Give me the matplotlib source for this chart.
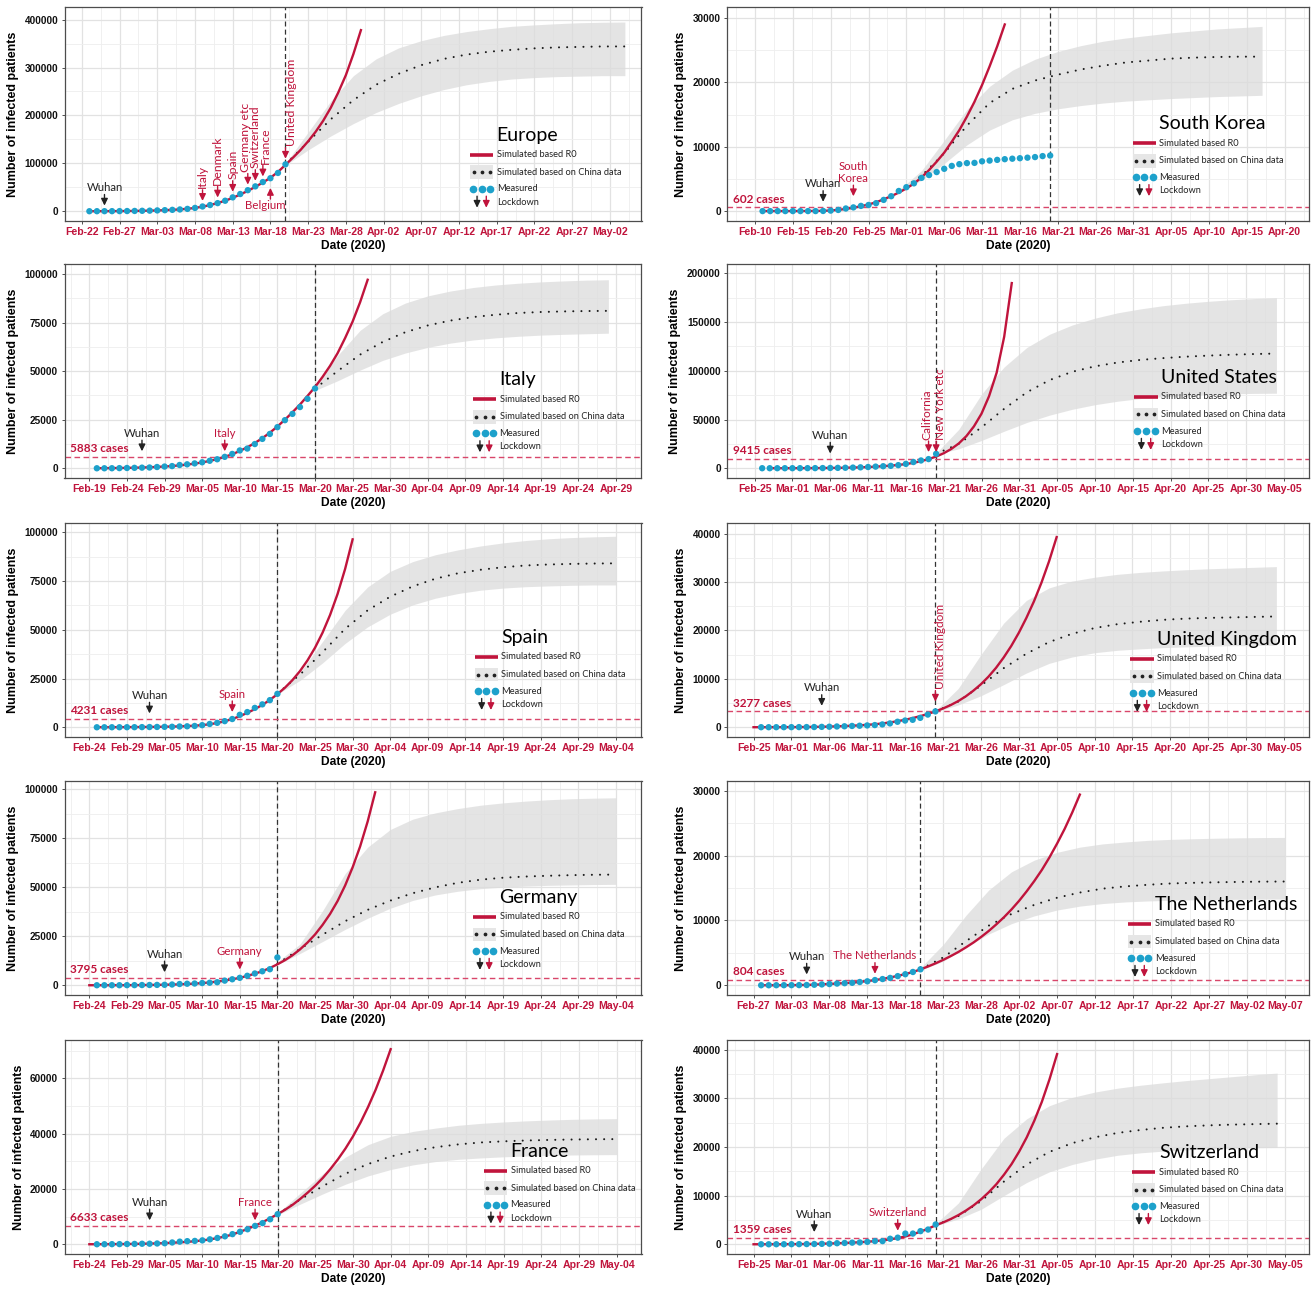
import numpy as np
import pandas as pd
import matplotlib
matplotlib.use('Agg')
import matplotlib.pyplot as plt
import matplotlib.dates as mdates
import matplotlib.transforms as mtransforms
from matplotlib.patches import Rectangle

plt.rcParams['font.family'] = ['Liberation Sans', 'DejaVu Sans']
SOFT = ['Lato', 'DejaVu Sans']

RED = '#C0143C'
BLUE = '#1DA1CB'
HLINE = '#D9466A'

# ---------------- data ----------------
# measured: daily values from *_start
# r0: daily values from *_r0_start
# china / low / high: every 3 days from *_china_start
CHINA_STEP = 3

europe_start = '2020-02-23'
europe_measured = [100, 150, 200, 250, 350, 500, 700, 1000, 1300, 1800, 2300, 3000, 3800, 5000,
                   7000, 10000, 13000, 17000, 22000, 29000, 36000, 44000, 52000, 61000, 69000,
                   80000, 98000]
europe_r0_start = '2020-02-23'
europe_r0 = [100, 150, 200, 270, 350, 500, 700, 950, 1300, 1750, 2300, 3000, 3900, 5200, 7000,
             9600, 13000, 17200, 22000, 28000, 35000, 42500, 51000, 60000, 70000, 82000, 97000,
             112000, 128000, 146000, 166000, 189000, 216000, 248000, 284000, 328000, 378000]
europe_china_start = '2020-03-20'
europe_china = [98000, 145000, 192000, 232000, 264000, 287000, 305000, 318000, 327000, 333000,
                337000, 340000, 342000, 343000, 344000, 344000]
europe_high = [100000, 165000, 230000, 283000, 318000, 341000, 356000, 367000, 375000, 381000,
               386000, 389000, 391500, 393500, 394500, 395000]
europe_low = [96000, 128000, 157000, 183000, 206000, 225000, 241000, 254000, 264000, 271000,
              276000, 279000, 281000, 282000, 283000, 283000]
europe_lock = '2020-03-20'
europe_cases = None
# (label, date, style, x shift pt, extra lift pt)
europe_marks = [('Wuhan', '2020-02-25', 'wuhan', 0, 0), ('Italy', '2020-03-09', 'rot', 0, 0),
                ('Denmark', '2020-03-11', 'rot', 0, 0), ('Spain', '2020-03-13', 'rot', 0, 0),
                ('Germany etc', '2020-03-15', 'rot', -1.5, 0),
                ('Switzerland', '2020-03-16', 'rot', 0, 0),
                ('France', '2020-03-17', 'rot', 1.5, 0), ('Belgium', '2020-03-18', 'below', -4, 3),
                ('United Kingdom', '2020-03-20', 'rot', 4, 0)]

sk_start = '2020-02-11'
sk_measured = [28, 28, 28, 28, 28, 29, 30, 31, 51, 104, 204, 433, 602, 833, 977, 1261, 1766, 2337,
               3150, 3736, 4335, 5186, 5621, 6088, 6593, 7041, 7314, 7478, 7513, 7755, 7869, 7979,
               8086, 8162, 8236, 8320, 8413, 8565, 8652]
sk_r0_start = '2020-02-11'
sk_r0 = [28, 28, 28, 29, 30, 32, 40, 50, 70, 120, 220, 360, 550, 780, 1050, 1400, 1850, 2350,
         2900, 3550, 4300, 5250, 6400, 7700, 9100, 10800, 12600, 14700, 17000, 19600, 22500,
         25600, 29000]
sk_china_start = '2020-02-29'
sk_china = [3150, 5500, 9000, 13300, 16800, 19000, 20300, 21200, 22000, 22600, 23100, 23400,
            23700, 23850, 23950, 24000, 24000]
sk_high = [3300, 6300, 11000, 15800, 19400, 21900, 23600, 24800, 25700, 26400, 26900, 27300,
           27700, 28000, 28300, 28500, 28700]
sk_low = [3000, 4800, 7400, 10300, 12600, 14200, 15200, 15900, 16400, 16800, 17100, 17300, 17500,
          17650, 17800, 17900, 18000]
sk_lock = '2020-03-20'
sk_cases = 602
sk_marks = [('Wuhan', '2020-02-19', 'wuhan', 0, 0), ('South\nKorea', '2020-02-23', 'up', 0, 4)]

italy_start = '2020-02-20'
italy_measured = [3, 3, 20, 79, 150, 229, 322, 400, 650, 888, 1128, 1694, 2036, 2502, 3089, 3858,
                  4636, 5883, 7375, 9172, 10149, 12462, 15113, 17660, 21157, 24747, 27980, 31506,
                  35713, 41035]
italy_r0_start = '2020-02-20'
italy_r0 = [30, 50, 80, 130, 200, 280, 380, 520, 700, 900, 1150, 1500, 1900, 2400, 3000, 3800,
            4700, 5900, 7200, 8900, 10800, 13000, 15500, 18300, 21500, 25000, 28800, 32800,
            37200, 41800, 47000, 52700, 59200, 67000, 75500, 85500, 97000]
italy_china_start = '2020-03-20'
italy_china = [41000, 50000, 58500, 65000, 70000, 73500, 76000, 77800, 79000, 79900, 80400, 80700,
               80900, 81000]
italy_high = [42000, 58000, 71000, 79500, 85000, 88700, 91200, 93000, 94300, 95200, 95900, 96400,
              96800, 97000]
italy_low = [40000, 45000, 50500, 55500, 59300, 62200, 64400, 66000, 67100, 67900, 68500, 68900,
             69200, 69500]
italy_lock = '2020-03-20'
italy_cases = 5883
italy_marks = [('Wuhan', '2020-02-26', 'wuhan', 0, 0), ('Italy', '2020-03-08', 'up', 0, 0)]

us_start = '2020-02-26'
us_measured = [60, 60, 65, 70, 80, 100, 125, 160, 220, 320, 420, 540, 700, 960, 1300, 1700, 2100,
               2500, 3200, 4500, 6400, 8000, 9415, 14800]
us_r0_start = '2020-02-27'
us_r0 = [60, 65, 70, 80, 100, 125, 160, 220, 300, 400, 540, 720, 950, 1250, 1650, 2150, 2700,
         3400, 4300, 5600, 7300, 9400, 12000, 15400, 19800, 25500, 33000, 43000, 56000, 74000,
         98000, 135000, 190000]
us_china_start = '2020-03-20'
us_china = [14800, 25000, 42000, 61000, 78000, 90500, 99000, 104600, 108500, 111200, 113000,
            114500, 115600, 116500, 117200, 117700]
us_high = [15500, 40000, 76000, 104000, 124000, 137500, 147000, 154000, 159500, 163500, 166800,
           169300, 171300, 172900, 174100, 175000]
us_low = [14200, 20000, 28500, 38000, 47000, 54500, 60500, 65200, 68800, 71500, 73400, 74800,
          75800, 76400, 76800, 77000]
us_lock = '2020-03-20'
us_cases = 9415
us_marks = [('Wuhan', '2020-03-06', 'wuhan', 0, 0), ('California', '2020-03-19', 'rot', -1.5, 1),
            ('New York etc', '2020-03-20', 'rot', 3.5, 1)]

spain_start = '2020-02-25'
spain_measured = [2, 6, 12, 23, 32, 45, 84, 120, 165, 222, 259, 400, 500, 673, 1073, 1695, 2277,
                  3146, 4231, 6391, 7798, 9942, 11748, 13910, 17147]
spain_r0_start = '2020-02-25'
spain_r0 = [20, 30, 40, 55, 70, 95, 120, 160, 200, 260, 340, 450, 600, 820, 1100, 1550, 2200,
            3100, 4200, 5700, 7400, 9300, 11500, 14000, 17000, 20300, 24200, 28800, 34300,
            40800, 48500, 57600, 68400, 81200, 96400]
spain_china_start = '2020-03-20'
spain_china = [17300, 27000, 38500, 50500, 60000, 67000, 72300, 76200, 79000, 80800, 82100, 83000,
               83500, 83800, 84000, 84100]
spain_high = [17500, 28000, 44000, 60000, 72000, 80000, 85000, 88500, 91000, 93000, 94600, 95800,
              96700, 97300, 97700, 98000]
spain_low = [17000, 24000, 33000, 43000, 51500, 58000, 62800, 66200, 68600, 70300, 71400, 72100,
             72500, 72800, 73000, 73000]
spain_lock = '2020-03-20'
spain_cases = 4231
spain_marks = [('Wuhan', '2020-03-03', 'wuhan', 0, 0), ('Spain', '2020-03-14', 'up', 0, 1)]

uk_start = '2020-02-26'
uk_measured = [13, 13, 15, 20, 23, 36, 40, 51, 85, 115, 163, 206, 273, 321, 382, 456, 590, 798,
               1140, 1391, 1543, 1950, 2626, 3277]
uk_r0_start = '2020-02-25'
uk_r0 = [13, 14, 15, 18, 22, 28, 38, 50, 70, 100, 140, 190, 250, 320, 400, 500, 620, 790, 1000,
         1250, 1550, 1900, 2300, 2750, 3277, 3880, 4580, 5400, 6380, 7550, 8880, 10450, 12280,
         14400, 16780, 19500, 22580, 26000, 29900, 34300, 39300]
uk_china_start = '2020-03-20'
uk_china = [3277, 5300, 8600, 12200, 15200, 17600, 19300, 20500, 21300, 21800, 22200, 22450,
            22600, 22700, 22800, 22900]
uk_high = [3400, 8000, 15000, 21500, 26200, 28800, 30200, 31000, 31600, 32000, 32300, 32550,
           32750, 32900, 33050, 33200]
uk_low = [3150, 4600, 6500, 8800, 11200, 13200, 14500, 15400, 15900, 16200, 16450, 16600, 16750,
          16850, 16900, 16950]
uk_lock = '2020-03-20'
uk_cases = 3277
uk_marks = [('Wuhan', '2020-03-05', 'wuhan', 0, 0), ('United Kingdom', '2020-03-20', 'rot', 4, 3)]

germany_start = '2020-02-25'
germany_measured = [16, 18, 21, 26, 53, 66, 117, 150, 188, 240, 400, 639, 795, 902, 1139, 1296,
                    1567, 2369, 3062, 3795, 4838, 6012, 7156, 8198, 14200]
germany_r0_start = '2020-02-24'
germany_r0 = [16, 18, 20, 26, 35, 50, 70, 100, 140, 190, 260, 360, 480, 650, 850, 1100, 1450,
              1900, 2400, 3050, 3795, 4800, 5900, 7200, 8800, 10700, 12800, 15300, 18300, 21800,
              25900, 30800, 36400, 43000, 50900, 60200, 70900, 83600, 98500]
germany_china_start = '2020-03-20'
germany_china = [11000, 18500, 25800, 32700, 38500, 43200, 47000, 50000, 52300, 53900, 54900,
                 55500, 55900, 56200, 56400, 56500]
germany_high = [12000, 21000, 38000, 57000, 70500, 79500, 84800, 88000, 90200, 91900, 93100,
                94000, 94700, 95200, 95500, 95700]
germany_low = [10500, 16200, 22300, 28500, 34200, 39300, 43300, 46100, 48000, 49300, 50100,
               50600, 51000, 51200, 51400, 51500]
germany_lock = '2020-03-20'
germany_cases = 3795
germany_marks = [('Wuhan', '2020-03-05', 'wuhan', 0, 0), ('Germany', '2020-03-15', 'up', 0, 2)]

nl_start = '2020-02-28'
nl_measured = [1, 1, 6, 10, 18, 24, 38, 82, 128, 188, 265, 321, 382, 503, 614, 804, 959, 1135,
               1413, 1705, 2051, 2460]
nl_r0_start = '2020-02-28'
nl_r0 = [1, 2, 5, 9, 15, 28, 50, 85, 140, 200, 270, 330, 400, 510, 650, 800, 980, 1200, 1450,
         1730, 2050, 2450, 2900, 3390, 3920, 4510, 5140, 5850, 6610, 7460, 8380, 9400, 10490,
         11700, 13030, 14500, 16080, 17800, 19730, 21850, 24120, 26650, 29400]
nl_china_start = '2020-03-20'
nl_china = [2460, 4300, 6800, 9200, 11000, 12400, 13500, 14300, 14900, 15250, 15500, 15700, 15800,
            15880, 15940, 15980, 16000]
nl_high = [2700, 6300, 10800, 14700, 17500, 19300, 20500, 21300, 21800, 22100, 22350, 22500,
           22600, 22680, 22740, 22780, 22800]
nl_low = [2300, 3700, 5900, 7900, 9500, 10700, 11600, 12200, 12600, 12850, 13000, 13100, 13170,
          13220, 13260, 13290, 13300]
nl_lock = '2020-03-20'
nl_cases = 804
nl_marks = [('Wuhan', '2020-03-05', 'wuhan', 0, 0), ('The Netherlands', '2020-03-14', 'up', 0, 0.5)]

france_start = '2020-02-25'
france_measured = [14, 18, 38, 57, 100, 130, 191, 212, 285, 377, 653, 949, 1126, 1209, 1412, 1784,
                   2281, 2876, 3661, 4499, 5423, 6633, 7652, 9043, 10871]
france_r0_start = '2020-02-24'
france_r0 = [14, 20, 30, 45, 65, 95, 130, 180, 240, 320, 420, 550, 700, 880, 1100, 1400, 1750,
             2250, 2800, 3550, 4500, 5550, 6700, 8000, 9400, 10900, 12500, 14300, 16400, 18700,
             21200, 24000, 27200, 30700, 34600, 39000, 44000, 49600, 55800, 62800, 70500]
france_china_start = '2020-03-20'
france_china = [10900, 16200, 21000, 25500, 29000, 31700, 33700, 35100, 36100, 36800, 37200,
                37500, 37700, 37850, 37950, 38000]
france_high = [11200, 18500, 25500, 31500, 36000, 39000, 40800, 42000, 43000, 43700, 44200,
               44600, 44900, 45150, 45300, 45400]
france_low = [10600, 14500, 18200, 21700, 24700, 27000, 28700, 29900, 30700, 31200, 31600,
              31900, 32100, 32250, 32350, 32400]
france_lock = '2020-03-20'
france_cases = 6633
france_marks = [('Wuhan', '2020-03-03', 'wuhan', 0, 0), ('France', '2020-03-17', 'up', 0, 0)]

ch_start = '2020-02-26'
ch_measured = [1, 1, 8, 8, 18, 27, 42, 56, 90, 114, 214, 268, 337, 374, 491, 652, 652, 1139, 1359,
               2200, 2200, 2700, 3028, 4075]
ch_r0_start = '2020-02-25'
ch_r0 = [1, 2, 5, 9, 15, 23, 35, 52, 75, 108, 150, 200, 260, 335, 420, 520, 650, 800, 1000, 1280,
         1600, 2050, 2600, 3200, 3900, 4500, 5200, 6000, 6940, 8000, 9260, 10700, 12350, 14300,
         16480, 19050, 21980, 25400, 29320, 33900, 39100]
ch_china_start = '2020-03-20'
ch_china = [4000, 5800, 8900, 12900, 16400, 19000, 20800, 22000, 22900, 23500, 23950, 24250,
            24450, 24600, 24700, 24800]
ch_high = [4200, 8500, 15500, 21800, 25800, 28500, 30200, 31300, 32100, 32700, 33200, 33650,
           34050, 34450, 34850, 35200]
ch_low = [3800, 5200, 7200, 10000, 12700, 14900, 16400, 17500, 18300, 18800, 19150, 19400,
          19600, 19750, 19850, 19900]
ch_lock = '2020-03-20'
ch_cases = 1359
ch_marks = [('Wuhan', '2020-03-04', 'wuhan', 0, 0), ('Switzerland', '2020-03-15', 'up', 0, 1)]

# first x tick of each panel, y tick step, y top
first_ticks = ['2020-02-22', '2020-02-10', '2020-02-19', '2020-02-25', '2020-02-24',
               '2020-02-25', '2020-02-24', '2020-02-27', '2020-02-24', '2020-02-25']
y_steps = [100000, 10000, 25000, 50000, 25000, 10000, 25000, 10000, 20000, 10000]
y_tops = [406000, 30200, 100100, 199600, 99800, 40200, 99300, 30000, 70300, 40000]

# ---------------- layout ----------------
W, H = 1312, 1290
ROW_TOPS = [7, 264, 523, 781, 1040]
AX_H = 214
COLS = [(64.5, 577), (727, 582)]
X_PAD = [(2.3, 4.2), (3.7, 3.2), (3.3, 3.4), (3.65, 3.3), (3.3, 3.4),
         (3.5, 3.3), (3.3, 3.4), (3.5, 3.2), (3.3, 3.3), (3.5, 3.2)]
LEGEND_POS = [(0.703, 0.40), (0.697, 0.454), (0.708, 0.458), (0.700, 0.469), (0.711, 0.464),
              (0.693, 0.455), (0.708, 0.455), (0.689, 0.422), (0.727, 0.48), (0.696, 0.473)]
ROT_SIZE = [8.8, 8.5, 8.5, 8.6, 8.5, 8.6, 8.5, 8.5, 8.5, 8.5]

panels = [
    ('Europe', europe_start, europe_measured, europe_r0_start, europe_r0, europe_china_start,
     europe_china, europe_low, europe_high, europe_lock, europe_cases, europe_marks),
    ('South Korea', sk_start, sk_measured, sk_r0_start, sk_r0, sk_china_start,
     sk_china, sk_low, sk_high, sk_lock, sk_cases, sk_marks),
    ('Italy', italy_start, italy_measured, italy_r0_start, italy_r0, italy_china_start,
     italy_china, italy_low, italy_high, italy_lock, italy_cases, italy_marks),
    ('United States', us_start, us_measured, us_r0_start, us_r0, us_china_start,
     us_china, us_low, us_high, us_lock, us_cases, us_marks),
    ('Spain', spain_start, spain_measured, spain_r0_start, spain_r0, spain_china_start,
     spain_china, spain_low, spain_high, spain_lock, spain_cases, spain_marks),
    ('United Kingdom', uk_start, uk_measured, uk_r0_start, uk_r0, uk_china_start,
     uk_china, uk_low, uk_high, uk_lock, uk_cases, uk_marks),
    ('Germany', germany_start, germany_measured, germany_r0_start, germany_r0,
     germany_china_start, germany_china, germany_low, germany_high,
     germany_lock, germany_cases, germany_marks),
    ('The Netherlands', nl_start, nl_measured, nl_r0_start, nl_r0, nl_china_start,
     nl_china, nl_low, nl_high, nl_lock, nl_cases, nl_marks),
    ('France', france_start, france_measured, france_r0_start, france_r0, france_china_start,
     france_china, france_low, france_high, france_lock, france_cases, france_marks),
    ('Switzerland', ch_start, ch_measured, ch_r0_start, ch_r0, ch_china_start,
     ch_china, ch_low, ch_high, ch_lock, ch_cases, ch_marks),
]


def dnum(start, n, step=1):
    return mdates.date2num(pd.date_range(start, periods=n, freq=f'{step}D').to_pydatetime())


def one(d):
    return mdates.date2num(pd.Timestamp(d).to_pydatetime())


def arrow(color):
    return dict(arrowstyle='-|>,head_length=0.45,head_width=0.22', lw=1.0, color=color,
                shrinkA=0, shrinkB=0, mutation_scale=9)


def draw_legend(ax, title, kx, ty):
    ys = [ty - 0.09, ty - 0.172, ty - 0.25, ty - 0.312]
    lx = kx + 0.046
    tr = ax.transAxes
    ax.text(lx, ty, title, transform=tr, family=SOFT, fontsize=14, ha='left', va='center', zorder=20)
    ax.plot([kx, kx + 0.04], [ys[0]] * 2, transform=tr, color=RED, lw=2.6,
            solid_capstyle='butt', zorder=20)
    ax.add_patch(Rectangle((kx, ys[1] - 0.032), 0.04, 0.064, transform=tr,
                           facecolor='#E6E6E6', edgecolor='none', zorder=19))
    ax.plot([kx + 0.006, kx + 0.02, kx + 0.034], [ys[1]] * 3, 'o', ms=1.7, color='#222222',
            transform=tr, zorder=20)
    ax.plot([kx + 0.005, kx + 0.02, kx + 0.035], [ys[2]] * 3, 'o', ms=4.5, color=BLUE,
            transform=tr, zorder=20)
    for xx, c in [(kx + 0.012, '#222222'), (kx + 0.028, RED)]:
        ax.annotate('', xy=(xx, ys[3] - 0.026), xycoords=tr, xytext=(xx, ys[3] + 0.028),
                    textcoords=tr, arrowprops=arrow(c), zorder=20)
    labels = ['Simulated based R0', 'Simulated based on China data', 'Measured', 'Lockdown']
    for y, lab in zip(ys, labels):
        ax.text(lx, y, lab, transform=tr, family=SOFT, fontsize=6.7, ha='left', va='center',
                color='#222222', zorder=20)


fig = plt.figure(figsize=(W / 100, H / 100), dpi=100)

for i, (name, start, meas, r0s, r0, cs, china, low, high, lock, cases, marks) in enumerate(panels):
    row, col = divmod(i, 2)
    x0, w = COLS[col]
    ax = fig.add_axes([x0 / W, 1 - (ROW_TOPS[row] + AX_H) / H, w / W, AX_H / H])

    # axes ranges and ticks
    ticks = pd.date_range(first_ticks[i], periods=15, freq='5D')
    lo = ticks[0] - pd.Timedelta(days=X_PAD[i][0])
    hi = ticks[-1] + pd.Timedelta(days=X_PAD[i][1])
    ax.set_xlim(one(lo), one(hi))
    top = y_tops[i]
    ax.set_ylim(-0.05 * top, 1.05 * top)

    tnum = mdates.date2num(ticks.to_pydatetime())
    ax.set_xticks(tnum, [t.strftime('%b-%d') for t in ticks], fontweight='bold')
    minor_x = np.concatenate([[tnum[0] - 2.5], tnum + 2.5])
    ax.set_xticks(minor_x[(minor_x > one(lo)) & (minor_x < one(hi))], minor=True)
    yt = np.arange(0, 1.05 * top, y_steps[i])
    ax.set_yticks(yt, [f'{int(v)}' for v in yt], fontweight='bold')
    ym = np.arange(y_steps[i] / 2, 1.05 * top, y_steps[i])
    ax.set_yticks(ym, minor=True)

    ax.tick_params(axis='x', which='major', labelcolor=RED, labelsize=7.6, length=2.5,
                   width=0.6, color='#333333', pad=2)
    ax.tick_params(axis='y', which='major', labelcolor='#111111', labelsize=7.2, length=2.5,
                   width=0.6, color='#333333', pad=2)
    ax.tick_params(which='minor', length=0)
    ax.grid(which='major', color='#E2E2E2', lw=0.9, zorder=0)
    ax.grid(which='minor', color='#EEEEEE', lw=0.6, zorder=0)
    ax.set_axisbelow(True)
    for s in ax.spines.values():
        s.set_color('#4D4D4D')
        s.set_linewidth(0.9)

    ax.set_xlabel('Date (2020)', fontweight='bold', fontsize=8.7, labelpad=2)
    ax.set_ylabel('Number of infected patients', fontweight='bold', fontsize=9, labelpad=4)

    # series
    cx = dnum(cs, len(china), CHINA_STEP)
    ax.fill_between(cx, low, high, color='#DCDCDC', alpha=0.75, lw=0, zorder=1)
    ax.plot(cx, china, color='#1A1A1A', lw=1.5, ls=(0, (0.01, 3.9)), dash_capstyle='round', zorder=3)
    ax.plot(dnum(r0s, len(r0)), r0, color=RED, lw=1.7, zorder=4)
    mx = dnum(start, len(meas))
    ax.scatter(mx, meas, s=21, color=BLUE, edgecolors='none', zorder=5)

    ax.axvline(one(lock), color='#333333', lw=0.9, ls=(0, (4, 2.5)), zorder=2)
    if cases is not None:
        ax.axhline(cases, color=HLINE, lw=1.0, ls=(0, (4, 2.5)), zorder=2)
        ctr = mtransforms.blended_transform_factory(ax.transAxes, ax.transData) + \
            mtransforms.ScaledTranslation(0, 2 / 72, fig.dpi_scale_trans)
        ax.text(0.010, cases, f'{cases} cases', transform=ctr, family=SOFT, fontweight='bold',
                fontsize=8.5, color=RED, ha='left', va='bottom')

    # lockdown arrows
    def off(dy, dx=0):
        return ax.transData + mtransforms.ScaledTranslation(dx / 72, dy / 72, fig.dpi_scale_trans)

    for label, d, kind, dx, lift in marks:
        x = one(d)
        if cases is not None:
            base = cases
        else:
            base = meas[(pd.Timestamp(d) - pd.Timestamp(start)).days]
        color = '#222222' if kind == 'wuhan' else RED
        if kind == 'below':
            ax.annotate('', xy=(x, base), xycoords=off(-4 - lift), xytext=(x, base),
                        textcoords=off(-12 - lift), arrowprops=arrow(color), zorder=6)
            ax.text(x, base, label, transform=off(-13 - lift, dx), family=SOFT, fontsize=8.2,
                    color=color, ha='center', va='top', zorder=6)
        else:
            ax.annotate('', xy=(x, base), xycoords=off(4 + lift), xytext=(x, base),
                        textcoords=off(12 + lift), arrowprops=arrow(color), zorder=6)
            rot = 90 if kind == 'rot' else 0
            size = ROT_SIZE[i] if kind == 'rot' else 8.2
            ax.text(x, base, label, transform=off(13 + lift, dx), family=SOFT, fontsize=size,
                    color=color, ha='center', va='bottom', rotation=rot, linespacing=1.1, zorder=6)

    draw_legend(ax, name, *LEGEND_POS[i])

fig.savefig('out.png', dpi=100)
